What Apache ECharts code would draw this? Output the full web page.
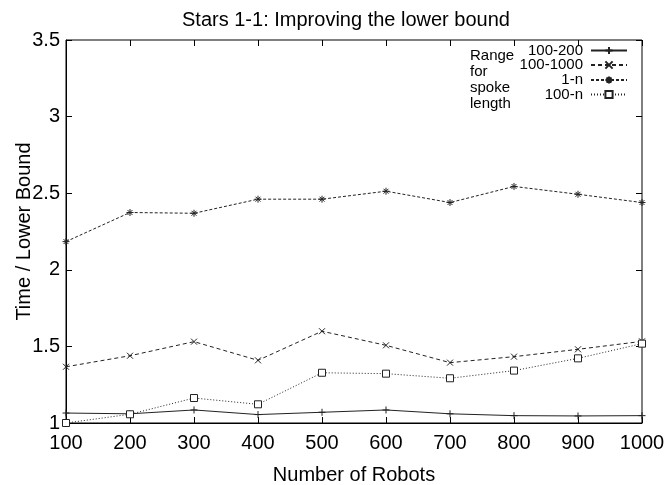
<!DOCTYPE html>
<html>
<head>
<meta charset="utf-8">
<script src="https://cdn.jsdelivr.net/npm/echarts@6/dist/echarts.min.js"></script>
<style>
html,body{margin:0;padding:0;background:#fff;}
#chart{width:665px;height:485px;}
</style>
</head>
<body>
<div id="chart"></div>
<script>
var robots = [100, 200, 300, 400, 500, 600, 700, 800, 900, 1000];
var range100_200 = [1.065, 1.06, 1.085, 1.055, 1.07, 1.085, 1.06, 1.048, 1.046, 1.048];
var range100_1000 = [1.367, 1.439, 1.531, 1.409, 1.599, 1.507, 1.394, 1.433, 1.481, 1.533];
var range1_n = [2.184, 2.374, 2.369, 2.461, 2.461, 2.513, 2.439, 2.544, 2.493, 2.439];
var range100_n = [1.0, 1.057, 1.163, 1.122, 1.328, 1.322, 1.292, 1.342, 1.422, 1.518];
var seriesNames = ['100-200', '100-1000', '1-n', '100-n'];
var yTicks = [1, 1.5, 2, 2.5, 3, 3.5];

function pairs(vals) { return robots.map(function (x, i) { return [x, vals[i]]; }); }

var FONT = 'Liberation Sans';
var plusPath = 'path://M0,5L10,5M5,0L5,10';
var crossPath = 'path://M0,0L10,10M10,0L0,10';
var starPath = 'path://M0,5L10,5M5,0L5,10M1.5,1.5L8.5,8.5M8.5,1.5L1.5,8.5';

function mkSeries(name, vals, symbol, size, dash, fill) {
  return {
    name: name, type: 'line', data: pairs(vals),
    symbol: symbol, symbolSize: size, showSymbol: true,
    lineStyle: { color: '#222', width: 1, type: dash },
    itemStyle: { color: fill, borderColor: '#222', borderWidth: 1 },
    emphasis: { disabled: true },
    animation: false
  };
}

function mkLegend(name, centerY) {
  return {
    data: [name], orient: 'vertical', align: 'right',
    right: 37, top: centerY - 8, padding: 0,
    itemWidth: 36, itemHeight: 9, itemGap: 0,
    selectedMode: false,
    textStyle: { fontFamily: FONT, fontSize: 15, color: '#000', padding: [0, 3, 0, 0] }
  };
}

var chart = echarts.init(document.getElementById('chart'));
chart.setOption({
  backgroundColor: '#fff',
  animation: false,
  title: {
    text: 'Stars 1-1: Improving the lower bound',
    left: 182, top: 10, padding: 0,
    textStyle: { fontFamily: FONT, fontSize: 20, fontWeight: 'normal', color: '#000' }
  },
  legend: [
    mkLegend(seriesNames[0], 51),
    mkLegend(seriesNames[1], 65.5),
    mkLegend(seriesNames[2], 80.5),
    mkLegend(seriesNames[3], 95)
  ],
  graphic: [{
    type: 'text', left: 470, top: 48,
    style: { text: 'Range\nfor\nspoke\nlength', fontFamily: FONT, fontSize: 15, lineHeight: 16, fill: '#000' }
  }],
  grid: { left: 66, right: 23, top: 40, bottom: 62, containLabel: false, outerBoundsMode: 'none', show: true, borderColor: '#000', borderWidth: 1, backgroundColor: 'transparent' },
  xAxis: [{
    type: 'value', min: 100, max: 1000, interval: 100,
    name: 'Number of Robots', nameLocation: 'middle', nameGap: 42, nameMoveOverlap: false,
    nameTextStyle: { fontFamily: FONT, fontSize: 20, color: '#000' },
    axisLine: { show: true, lineStyle: { color: '#000' } },
    axisTick: { inside: true, length: 6, lineStyle: { color: '#000' } },
    axisLabel: { fontFamily: FONT, fontSize: 20, color: '#000', margin: 10, formatter: function (v) { return String(v); } },
    splitLine: { show: false }
  }, {
    type: 'value', position: 'top', min: 100, max: 1000, interval: 100,
    axisLine: { show: false },
    axisTick: { inside: true, length: 6, lineStyle: { color: '#000' } },
    axisLabel: { show: false }, splitLine: { show: false }
  }],
  yAxis: [{
    type: 'value', min: yTicks[0], max: yTicks[yTicks.length - 1], interval: 0.5,
    name: 'Time / Lower Bound', nameLocation: 'middle', nameGap: 32, nameRotate: 90, nameMoveOverlap: false,
    nameTextStyle: { fontFamily: FONT, fontSize: 20, color: '#000' },
    axisLine: { show: true, lineStyle: { color: '#000' } },
    axisTick: { inside: true, length: 6, lineStyle: { color: '#000' } },
    axisLabel: { fontFamily: FONT, fontSize: 20, color: '#000', margin: 6 },
    splitLine: { show: false }
  }, {
    type: 'value', position: 'right', min: 1, max: 3.5, interval: 0.5,
    axisLine: { show: false },
    axisTick: { show: true, inside: true, length: 6, lineStyle: { color: '#000' } },
    axisLabel: { show: false }, splitLine: { show: false }
  }],
  series: [
    mkSeries(seriesNames[0], range100_200, plusPath, 7, 'solid', 'none'),
    mkSeries(seriesNames[1], range100_1000, crossPath, 6, [4, 3], 'none'),
    mkSeries(seriesNames[2], range1_n, starPath, 7, [3, 2], 'none'),
    mkSeries(seriesNames[3], range100_n, 'rect', 7, [1, 2], '#fff')
  ]
});
</script>
</body>
</html>
